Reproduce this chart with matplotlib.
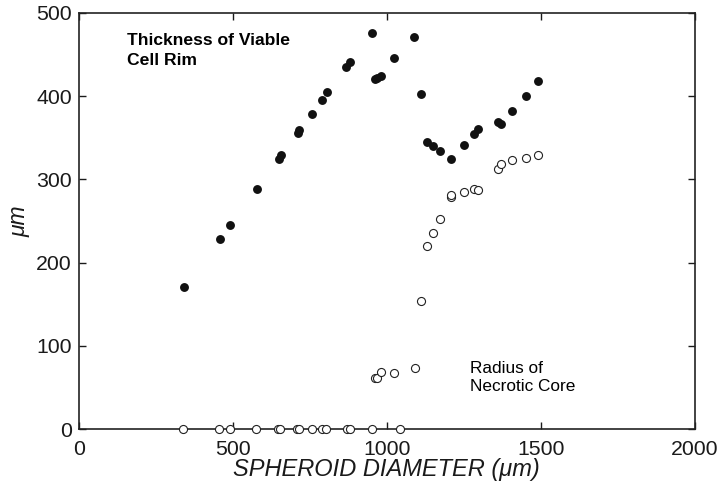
import matplotlib
matplotlib.use("Agg")
import matplotlib.pyplot as plt

plt.rcParams['font.family'] = ['Liberation Sans', 'DejaVu Sans']

# Thickness of viable cell rim (filled)
rim_diam = [342, 459, 491, 578, 650, 657, 713, 716, 756, 791, 807, 868, 881, 951,
            962, 970, 983, 1025, 1090, 1111, 1130, 1151, 1173, 1208, 1252, 1283,
            1296, 1360, 1371, 1408, 1451, 1491]
rim_thick = [171, 229, 245, 289, 325, 329, 356, 359, 379, 395, 405, 435, 441, 476,
             420, 422, 424, 446, 471, 402, 345, 340, 334, 324, 341, 354,
             361, 369, 366, 382, 400, 418]

# Radius of necrotic core (open)
core_diam = [340, 457, 491, 576, 646, 654, 710, 714, 756, 789, 802, 870, 881, 951, 1043,
             962, 967, 983, 1025, 1092, 1111, 1130, 1151, 1173, 1208, 1208, 1252,
             1283, 1296, 1360, 1371, 1408, 1451, 1491]
core_rad = [0, 0, 0, 0, 0, 0, 0, 0, 0, 0, 0, 0, 0, 0, 0,
            61, 62, 69, 68, 74, 154, 220, 236, 252, 279, 281, 285,
            288, 287, 312, 319, 323, 326, 329]

x_ticks = [0, 500, 1000, 1500, 2000]
y_ticks = [0, 100, 200, 300, 400, 500]

fig = plt.figure(figsize=(7.19, 4.90), dpi=100)
ax = fig.add_axes([0.1095, 0.1239, 0.8567, 0.8501])

ax.plot(rim_diam, rim_thick, 'o', color='#111111', markersize=6.4,
        markeredgewidth=0, clip_on=False, zorder=3)
ax.plot(core_diam, core_rad, 'o', markerfacecolor='white', markeredgecolor='#222222',
        markersize=5.8, markeredgewidth=0.8, clip_on=False, zorder=4)

ax.set_xlim(0, 2000)
ax.set_ylim(0, 500)
ax.set_xticks(x_ticks)
ax.set_yticks(y_ticks)
ax.tick_params(direction='in', length=5, width=1, top=True, right=True,
               labelsize=15.3, colors='#1a1a1a', pad=5)
ax.tick_params(axis='x', pad=8)
for s in ax.spines.values():
    s.set_linewidth(1.2)
    s.set_color('#222222')

ax.set_xlabel('SPHEROID DIAMETER (μm)', fontsize=17, style='italic',
              color='#1a1a1a', labelpad=-1)
ax.set_ylabel('μm', fontsize=16.5, style='italic', color='#1a1a1a', labelpad=4)

ax.text(0.078, 0.952, 'Thickness of Viable\nCell Rim', transform=ax.transAxes,
        fontsize=12.6, fontweight='bold', va='top', ha='left', color='black',
        linespacing=1.4)
ax.text(0.635, 0.165, 'Radius of\nNecrotic Core', transform=ax.transAxes,
        fontsize=12.4, va='top', ha='left', color='black', linespacing=1.3)

fig.savefig('out.png', dpi=100)
